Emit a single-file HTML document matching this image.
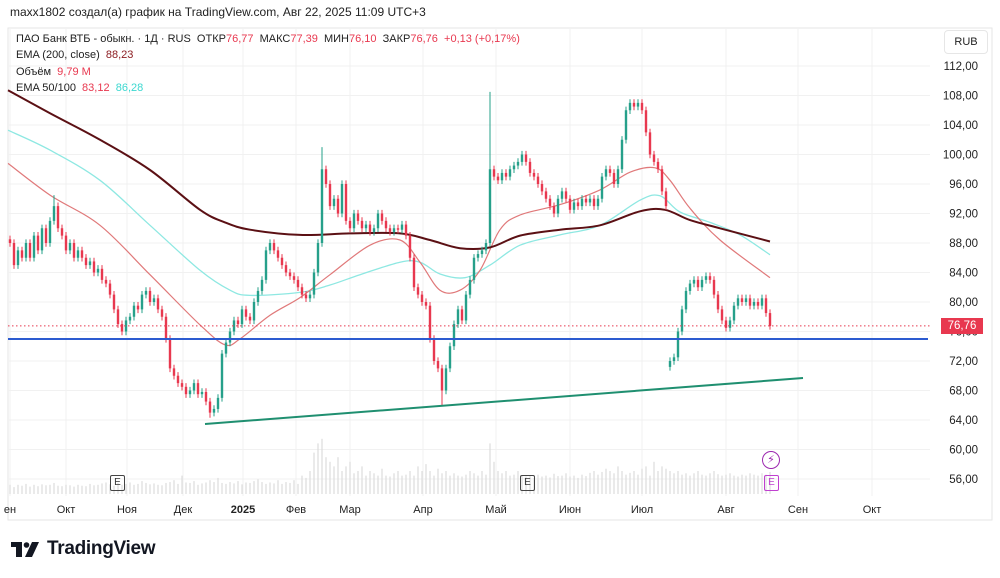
<!DOCTYPE html>
<html><head><meta charset="utf-8">
<style>
body{margin:0;background:#fff;width:1000px;height:578px;overflow:hidden;font-family:"Liberation Sans","DejaVu Sans",sans-serif;}
svg{position:absolute;left:0;top:0}
</style></head>
<body>
<svg id="c" width="1000" height="578"></svg>
<script>
const closes=[88,85,87,86,88,86,89,87,90,88,91,93,90,89,87,88,86,87,86,85,85.5,84,84.5,83,82.5,81,79,77,76,77.5,78,79.5,79,81,81.5,80,80.5,79,78,75,71,70,69,68.5,67.5,68,69,67.5,67.8,66.5,65,65.5,67,73,74.5,76,77.5,77,79,78,77.5,80,81.5,83,87,88,87,86,85,84,83.5,83,82,81,80.5,81,84,88,98,96,93,94,92,96,91,90,92,91,90,90.5,89.5,90,92,91,90,89.5,90,89.8,90.5,89,86,82,81,80,79.5,75,72,71,68,71,74,77,79,77.5,81,83,86,86.5,87,88,98,97,96.5,97.5,97,98,98.5,99,100,99,97.5,97,96,95,94,93,92,94,95,94,92.5,93.5,93,94,93.5,94,93,94,97,98,97.5,96,98,102,106,107,106.5,107,106,103,100,99,98,95,93,72,72.5,76,79,81.5,82.5,83,82,83,83.5,83,81,79,77.5,76.5,77.5,79.5,80.5,80,80.5,79.5,80,79.5,80.5,78.5,76.76];
const spikeIdx=[11,78,120,108,50];
const spikeHigh=[94.5,101,108.5,null,null];
const spikeLow=[null,null,null,66,64.3];
const gapIdx=[165];
const gapOpen=[71.2];
const volumes=[2,1.5,2,1.8,2.2,1.6,2,1.7,2.1,1.9,2,2.4,1.8,1.7,2,1.9,1.6,2,1.8,1.7,2.2,1.9,2,2.3,2.5,2.1,1.8,2.4,2,2.2,2.5,2,2.2,2.8,2.4,2.1,2.3,2,1.9,2.4,2.6,3,2.2,4,2.5,2.4,2.8,2,2.3,2.5,3,2.6,3.5,2.4,2.2,2.6,2.3,2.8,2.1,2.5,2.4,2.8,3.2,2.6,2.2,2.5,2.3,3,2.2,2.6,2.4,3,2.2,4,3.5,5,9,11,12,8,7,6,8,5,6,7,4.5,5,6,4,5,4.5,4,5.5,4,3.8,4.5,5,4,4.2,5,4,6,5,6.5,5,4,5.5,4.5,5,4,4.5,4,3.8,4.2,5,4.5,4,5,4.2,11,7,5,4.5,5,4,4.2,5,4,3.8,4,3.5,4.2,3.8,4,3.6,4.4,3.9,4,4.5,3.8,4,3.5,4.2,3.9,4.6,5,4.2,4.8,5.5,5,4.5,6,5,4.2,4.6,5,4.2,5.5,6,4,7,5,6,5.5,5,4.5,5,4.2,4.5,4,4.5,5,4.2,4,4.5,5,4.3,4,4.2,4.5,4,3.8,4.2,4,4.5,4.2,4,4.5,4.2,4.8];
// EMA samples (candle index, value)
const ema200Idx=[-0.5,10,22.5,35,47.5,53.75,60,72.5,85,97.5,105,112.5,120,127.5,137.5,147.5,157.5,163.75,170,177.5,190];
const ema200=[108.7,105.6,102,97.9,92.5,90.8,89.8,89.1,89.3,89.3,88.4,87.3,87.4,89,89.8,90.4,92.3,92.5,91.1,90,88.2];
const ema100Idx=[-0.5,10,22.5,35,47.5,55,60,72.5,80,87.5,97.5,102.5,107.5,113.75,120,127.5,137.5,147.5,157.5,162.5,167.5,175,182.5,190];
const ema100=[103.3,100.6,96.5,90.4,84.3,81.6,80.9,81.3,82.3,83.7,85.4,85.4,83.8,83.3,85,87.7,89.1,90.4,93.8,94.4,92.2,90.8,89.1,86.4];
const ema50Idx=[-0.5,10,22.5,35,47.5,53.75,57.5,65,72.5,80,90,97.5,102.5,107.5,112.5,117.5,122.5,127.5,137.5,147.5,155,161.25,165,170,177.5,190];
const ema50=[98.8,94.5,90.4,83.7,76.9,74.2,75,78.2,80.6,83.7,87.7,88.4,85.4,81.6,81.6,84.3,89.8,91.8,93.2,95.2,97.6,98.2,96.5,92.7,88.4,83.3];
const priceTicks=[112,108,104,100,96,92,88,84,80,76,72,68,64,60,56];
const monthLabels=["ен","Окт","Ноя","Дек","2025","Фев","Мар","Апр","Май","Июн","Июл","Авг","Сен","Окт"];
const monthX=[10,66,127,183,243,296,350,423,496,570,642,726,798,872];

const svg=document.getElementById('c');
const NS='http://www.w3.org/2000/svg';
const X0=10,X1=770;
const xs=i=>X0+i*(X1-X0)/(closes.length-1);
const ys=v=>66+(112-v)*7.375;
function mk(t,a,p){const e=document.createElementNS(NS,t);for(const k in a)e.setAttribute(k,a[k]);(p||svg).appendChild(e);return e;}

let f=mk('rect',{x:8,y:28,width:984,height:492,fill:'none',stroke:'#e6e6e6'});

priceTicks.forEach(v=>{let l=mk('line',{x1:8,x2:930,y1:ys(v),y2:ys(v),stroke:'#f1f1f1'});

let t=mk('text',{x:978,y:ys(v)+4,'font-size':11.5,'text-anchor':'end',fill:'#222'});t.textContent=v+',00';
});
monthX.forEach((x,i)=>{let l=mk('line',{x1:x,x2:x,y1:28,y2:496,stroke:'#f1f1f1'});

let t=mk('text',{x:x,y:513,'font-size':11,'text-anchor':'middle',fill:'#222','font-weight':monthLabels[i]==='2025'?'bold':'normal'});t.textContent=monthLabels[i];
});
volumes.forEach((v,i)=>{let r=mk('rect',{x:xs(i)-0.6,y:494-v*4.6,width:1.2,height:v*4.6,fill:'#dcdcdc'});
});
function curve(idx,vals,color,w,name){
 const P=vals.map((v,k)=>[xs(idx[k]),ys(v)]);
 let d='M'+P[0][0].toFixed(1)+' '+P[0][1].toFixed(1);
 for(let k=0;k<P.length-1;k++){const p0=P[k-1]||P[k],p1=P[k],p2=P[k+1],p3=P[k+2]||P[k+1];
  const c1=[p1[0]+(p2[0]-p0[0])/6,p1[1]+(p2[1]-p0[1])/6],c2=[p2[0]-(p3[0]-p1[0])/6,p2[1]-(p3[1]-p1[1])/6];
  d+=' C'+c1.map(n=>n.toFixed(1)).join(' ')+' '+c2.map(n=>n.toFixed(1)).join(' ')+' '+p2[0].toFixed(1)+' '+p2[1].toFixed(1);}
 let p=mk('path',{d:d,fill:'none',stroke:color,'stroke-width':w,'stroke-linejoin':'round'});
 }
curve(ema100Idx,ema100,'#8ee8e2',1.3,'ema-100-line');
curve(ema50Idx,ema50,'#e0797a',1.2,'ema-50-line');
curve(ema200Idx,ema200,'#5b1014',2,'ema-200-line');
closes.forEach((c,i)=>{let o=i?closes[i-1]:c+0.5;const g=gapIdx.indexOf(i);if(g>=0)o=gapOpen[g];
let hi=Math.max(o,c)+0.5,lo=Math.min(o,c)-0.5;
const k=spikeIdx.indexOf(i);if(k>=0){if(spikeHigh[k]!=null)hi=spikeHigh[k];if(spikeLow[k]!=null)lo=spikeLow[k];}
const col=c>=o?'#26a08a':'#e8384f';const x=xs(i);
let w=mk('line',{x1:x,x2:x,y1:ys(hi),y2:ys(lo),stroke:col,'stroke-width':1});

let b=mk('rect',{x:x-1.2,y:ys(Math.max(o,c)),width:2.4,height:Math.max(1,Math.abs(ys(o)-ys(c))),fill:col});
});
let dl=mk('line',{x1:8,x2:930,y1:ys(76.76),y2:ys(76.76),stroke:'#e8384f','stroke-dasharray':'1.5 2.5','stroke-width':1});

let bl=mk('line',{x1:8,x2:928,y1:339,y2:339,stroke:'#2c5bd0','stroke-width':2});

let gl=mk('line',{x1:205,y1:424,x2:803,y2:378,stroke:'#1f8f70','stroke-width':2});

</script>
<div style="position:absolute;left:10px;top:5px;font-size:12px;color:#222">maxx1802 создал(а) график на TradingView.com, Авг 22, 2025 11:09 UTC+3</div>
<div style="position:absolute;left:16px;top:31px;font-size:11px;line-height:16.3px;color:#222">
<div>ПАО Банк ВТБ - обыкн. · 1Д · RUS &nbsp;ОТКР<span style="color:#e8384f">76,77</span> &nbsp;МАКС<span style="color:#e8384f">77,39</span> &nbsp;МИН<span style="color:#e8384f">76,10</span> &nbsp;ЗАКР<span style="color:#e8384f">76,76</span> &nbsp;<span style="color:#e8384f">+0,13 (+0,17%)</span></div>
<div>EMA (200, close) &nbsp;<span style="color:#8b1a1f">88,23</span></div>
<div>Объём &nbsp;<span style="color:#e8384f">9,79 M</span></div>
<div>EMA 50/100 &nbsp;<span style="color:#e8384f">83,12</span> &nbsp;<span style="color:#3cd8d0">86,28</span></div>
</div>
<div style="position:absolute;left:944px;top:30px;width:42px;height:22px;border:1px solid #e6e6e6;border-radius:4px;font-size:11px;line-height:22px;text-align:center;color:#222">RUB</div>
<div style="position:absolute;left:941px;top:318px;width:42px;height:16px;background:#e8384f;color:#fff;font-size:11.5px;line-height:16px;text-align:center">76,76</div>
<div style="position:absolute;left:110px;top:475px;width:13px;height:14px;border:1.3px solid #444;border-radius:2px;font-size:10px;line-height:14px;text-align:center;color:#333">E</div>
<div style="position:absolute;left:520px;top:475px;width:13px;height:14px;border:1.3px solid #444;border-radius:2px;font-size:10px;line-height:14px;text-align:center;color:#333">E</div>
<div style="position:absolute;left:762px;top:451px;width:16px;height:16px;border:1.5px solid #9c27b0;border-radius:50%;font-size:11px;line-height:16px;text-align:center;color:#9c27b0">⚡</div>
<div style="position:absolute;left:764px;top:475px;width:13px;height:14px;border:1.3px solid #c040d0;border-radius:2px;font-size:10px;line-height:14px;text-align:center;color:#c040d0">E</div>
<div style="position:absolute;left:11px;top:538px;height:22px">
<svg width="30" height="20" style="position:absolute;left:0;top:2px"><rect x="0" y="2" width="11" height="5" fill="#131722"/><rect x="5" y="2" width="6" height="15" fill="#131722"/><circle cx="15.5" cy="5" r="2.8" fill="#131722"/><polygon points="21,2 28,2 21,17 14,17" fill="#131722"/></svg>
<span style="position:absolute;left:36px;top:0;font-size:19px;font-weight:bold;color:#131722;white-space:nowrap;letter-spacing:-0.3px">TradingView</span></div>
</body></html>
